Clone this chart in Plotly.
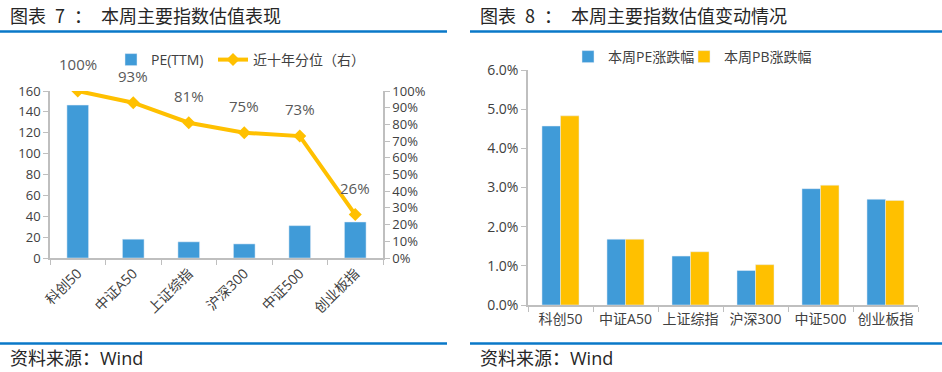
import plotly.graph_objects as go

# ---- data ----
categories = ["科创50", "中证A50", "上证综指", "沪深300", "中证500", "创业板指"]
pe_ttm = [146.5, 18, 15.5, 13.5, 31, 34.5]
pct_10y = [1.00, 0.93, 0.81, 0.75, 0.73, 0.26]
pe_chg = [0.0457, 0.0168, 0.0125, 0.0088, 0.0297, 0.0270]
pb_chg = [0.0483, 0.0168, 0.0136, 0.0103, 0.0306, 0.0267]
left_yticks = [0, 20, 40, 60, 80, 100, 120, 140, 160]
right_yticks = [i / 10 for i in range(11)]
chg_yticks = [0, 0.01, 0.02, 0.03, 0.04, 0.05, 0.06]

W, H = 942, 372
BLUE = "#409bd8"
GOLD = "#ffc000"
AXC = "#bfbfbf"
TXT = "#404040"
FONT = "Open Sans, Noto Sans CJK SC"
CJK = "Noto Sans CJK SC"

def px(x):
    return x / W

def py(y):
    return 1 - y / H

fig = go.Figure()

fig.add_trace(go.Bar(x=categories, y=pe_ttm, name="PE(TTM)", marker_color=BLUE,
                     xaxis="x", yaxis="y", width=0.39, legend="legend"))
fig.add_trace(go.Scatter(x=categories, y=pct_10y, name="近十年分位（右）", mode="lines+markers",
                         line=dict(color=GOLD, width=4), marker=dict(symbol="diamond", size=10, color=GOLD),
                         xaxis="x", yaxis="y2", legend="legend3"))

fig.add_trace(go.Bar(x=categories, y=pe_chg, name="本周PE涨跌幅", marker_color=BLUE,
                     xaxis="x3", yaxis="y3", legend="legend2"))
fig.add_trace(go.Bar(x=categories, y=pb_chg, name="本周PB涨跌幅", marker_color=GOLD,
                     xaxis="x3", yaxis="y3", legend="legend4"))

annotations = []
for c, v in zip(categories, pct_10y):
    annotations.append(dict(x=c, y=v, xref="x", yref="y2", text=f"{round(v*100)}%", showarrow=False,
                            yshift=27, font=dict(size=15, color="#595959", family=FONT)))

SP = "\u2002"
annotations += [
    dict(x=px(8), y=py(15), xref="paper", yref="paper", xanchor="left", yanchor="middle",
         text=f"图表{SP}7{SP}：{SP}本周主要指数估值表现", showarrow=False,
         font=dict(size=18, color="#262626", family=CJK)),
    dict(x=px(478), y=py(15), xref="paper", yref="paper", xanchor="left", yanchor="middle",
         text=f"图表{SP}8{SP}：{SP}本周主要指数估值变动情况", showarrow=False,
         font=dict(size=18, color="#262626", family=CJK)),
    dict(x=px(8), y=py(358), xref="paper", yref="paper", xanchor="left", yanchor="middle",
         text="资料来源：Wind", showarrow=False, font=dict(size=18, color="#262626", family=FONT)),
    dict(x=px(478), y=py(358), xref="paper", yref="paper", xanchor="left", yanchor="middle",
         text="资料来源：Wind", showarrow=False, font=dict(size=18, color="#262626", family=FONT)),
]

shapes = []
for x0, x1 in [(0, 447), (470, 942)]:
    for y in (31.5, 343.5):
        shapes.append(dict(type="line", xref="paper", yref="paper", x0=px(x0), x1=px(x1),
                           y0=py(y), y1=py(y), line=dict(color="#0a78c8", width=2.5)))

axis_common = dict(showgrid=False, zeroline=False, showline=True, linecolor=AXC, linewidth=1.5,
                   ticks="outside", tickcolor=AXC, ticklen=5, automargin=False,
                   tickfont=dict(size=13, color=TXT, family=FONT))

def tf(size):
    return {**axis_common, "tickfont": dict(size=size, color=TXT, family=FONT)}

def leg(x, y):
    return dict(orientation="h", x=px(x), y=py(y), xanchor="left", yanchor="middle",
                font=dict(size=14, color=TXT, family=FONT), bgcolor="rgba(0,0,0,0)",
                itemwidth=30)

fig.update_layout(
    width=W, height=H, margin=dict(l=0, r=0, t=0, b=0),
    paper_bgcolor="white", plot_bgcolor="white",
    font=dict(family=FONT, color=TXT),
    bargap=0.43, bargroupgap=0,
    showlegend=True,
    xaxis=dict(domain=[px(50), px(383)], anchor="y", tickson="boundaries", tickangle=-45, **tf(14)),
    yaxis=dict(domain=[py(258), py(91)], anchor="x", range=[0, 160], tickvals=left_yticks, **tf(13)),
    yaxis2=dict(overlaying="y", side="right", anchor="x", range=[0, 1], tickvals=right_yticks,
                tickformat=".0%", **tf(13)),
    xaxis3=dict(domain=[px(528), px(918)], anchor="y3", tickson="boundaries", tickangle=0, **tf(14)),
    yaxis3=dict(domain=[py(305), py(70)], anchor="x3", range=[0, 0.06], tickvals=chg_yticks,
                tickformat=".1%", **tf(14)),
    legend=leg(111, 60),
    legend3=leg(213, 60),
    legend2=leg(568, 57),
    legend4=leg(684, 57),
    annotations=annotations,
    shapes=shapes,
)

fig.write_html("out.html", config={"displayModeBar": False},
               post_script="document.body.style.margin='0';document.body.style.overflow='hidden';")
